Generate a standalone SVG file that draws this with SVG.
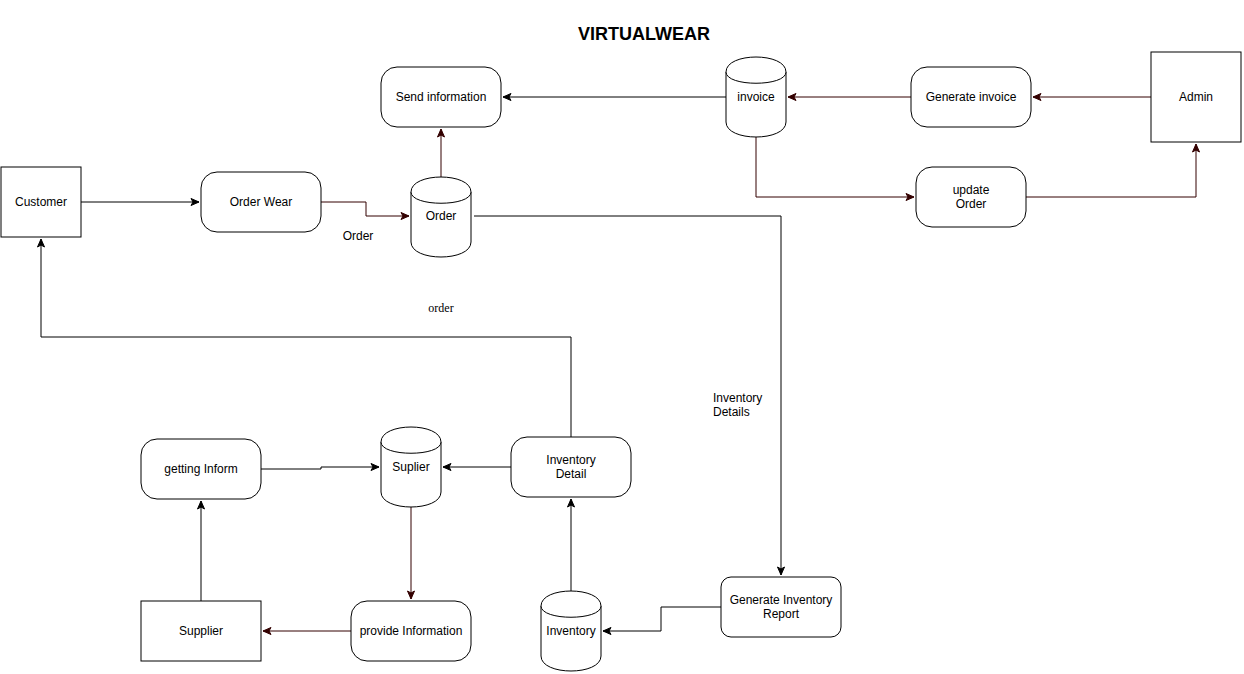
<svg xmlns="http://www.w3.org/2000/svg" width="1244" height="674" viewBox="0 0 1244 674">
<style>
.box{fill:#fff;stroke:#000;stroke-width:1}
.t{font-family:"Liberation Sans",Arial,sans-serif;font-size:12px;fill:#000;text-anchor:middle}
.tl{font-family:"Liberation Sans",Arial,sans-serif;font-size:12px;fill:#000}
.e{fill:none;stroke:#000;stroke-width:1}
.r{fill:none;stroke:#330000;stroke-width:1}
</style>
<defs>
<marker id="ab" markerUnits="userSpaceOnUse" markerWidth="10" markerHeight="10" viewBox="0 0 10 10" refX="9" refY="5" orient="auto">
<path d="M1,1.5 L9,5 L1,8.5 L3,5 Z" fill="#000" stroke="#000" stroke-width="1"/>
</marker>
<marker id="ar" markerUnits="userSpaceOnUse" markerWidth="10" markerHeight="10" viewBox="0 0 10 10" refX="9" refY="5" orient="auto">
<path d="M1,1.5 L9,5 L1,8.5 L3,5 Z" fill="#330000" stroke="#330000" stroke-width="1"/>
</marker>
<g id="cyl">
<path class="box" d="M0,15 C0,-5 60,-5 60,15 L60,65 C60,85 0,85 0,65 Z"/>
<path class="box" fill="none" d="M0,15 C0,30 60,30 60,15"/>
</g>
</defs>
<rect width="1244" height="674" fill="#fff"/>
<text x="644" y="40" font-family="'Liberation Sans',Arial,sans-serif" font-size="18" font-weight="bold" text-anchor="middle">VIRTUALWEAR</text>

<g id="connectors">
<path class="e" d="M81,202 L199,202" marker-end="url(#ab)"/>
<path class="r" d="M321,202 L366,202 L366,216 L409,216" marker-end="url(#ar)"/>
<path class="r" d="M441,177 L441,129" marker-end="url(#ar)"/>
<path class="e" d="M474,216 L781,216 L781,575" marker-end="url(#ab)"/>
<path class="e" d="M721,607 L661,607 L661,631 L603,631" marker-end="url(#ab)"/>
<path class="e" d="M571,591 L571,499" marker-end="url(#ab)"/>
<path class="e" d="M571,437 L571,337 L41,337 L41,239" marker-end="url(#ab)"/>
<path class="e" d="M511,467 L443,467" marker-end="url(#ab)"/>
<path class="e" d="M261,469 L321,469 L321,467 L379,467" marker-end="url(#ab)"/>
<path class="r" d="M411,507 L411,599" marker-end="url(#ar)"/>
<path class="r" d="M351,631 L263,631" marker-end="url(#ar)"/>
<path class="e" d="M201,601 L201,501" marker-end="url(#ab)"/>
<path class="e" d="M726,97 L503,97" marker-end="url(#ab)"/>
<path class="r" d="M911,97 L788,97" marker-end="url(#ar)"/>
<path class="r" d="M1151,97 L1033,97" marker-end="url(#ar)"/>
<path class="r" d="M756,137 L756,197 L914,197" marker-end="url(#ar)"/>
<path class="r" d="M1026,197 L1196,197 L1196,144" marker-end="url(#ar)"/>
<text class="t" x="358" y="240">Order</text>
<text x="441" y="312" font-family="'Liberation Serif','Times New Roman',serif" font-size="12" text-anchor="middle">order</text>
<text class="tl" x="713" y="402">Inventory</text>
<text class="tl" x="713" y="416">Details</text>
</g>

<g id="customer"><rect class="box" x="1" y="167" width="80" height="70"/><text class="t" x="41" y="206">Customer</text></g>
<g id="order-wear"><rect class="box" x="201" y="172" width="120" height="60" rx="16"/><text class="t" x="261" y="206">Order Wear</text></g>
<g id="send-information"><rect class="box" x="381" y="67" width="120" height="60" rx="16"/><text class="t" x="441" y="101">Send information</text></g>
<g id="order" transform="translate(411,177)"><use href="#cyl"/><text class="t" x="30" y="43">Order</text></g>
<g id="invoice" transform="translate(726,57)"><use href="#cyl"/><text class="t" x="30" y="44">invoice</text></g>
<g id="generate-invoice"><rect class="box" x="911" y="67" width="120" height="60" rx="16"/><text class="t" x="971" y="101">Generate invoice</text></g>
<g id="admin"><rect class="box" x="1151" y="52" width="90" height="90"/><text class="t" x="1196" y="101">Admin</text></g>
<g id="update-order"><rect class="box" x="916" y="167" width="110" height="60" rx="16"/><text class="t" x="971" y="194">update</text><text class="t" x="971" y="208">Order</text></g>
<g id="generate-inventory-report"><rect class="box" x="721" y="577" width="120" height="60" rx="10"/><text class="t" x="781" y="604">Generate Inventory</text><text class="t" x="781" y="618">Report</text></g>
<g id="inventory" transform="translate(541,591)"><use href="#cyl"/><text class="t" x="30" y="44">Inventory</text></g>
<g id="inventory-detail"><rect class="box" x="511" y="437" width="120" height="60" rx="16"/><text class="t" x="571" y="464">Inventory</text><text class="t" x="571" y="478">Detail</text></g>
<g id="suplier" transform="translate(381,427)"><use href="#cyl"/><text class="t" x="30" y="44">Suplier</text></g>
<g id="getting-inform"><rect class="box" x="141" y="439" width="120" height="60" rx="16"/><text class="t" x="201" y="473">getting Inform</text></g>
<g id="provide-information"><rect class="box" x="351" y="601" width="120" height="60" rx="16"/><text class="t" x="411" y="635">provide Information</text></g>
<g id="supplier"><rect class="box" x="141" y="601" width="120" height="60"/><text class="t" x="201" y="635">Supplier</text></g>
</svg>
